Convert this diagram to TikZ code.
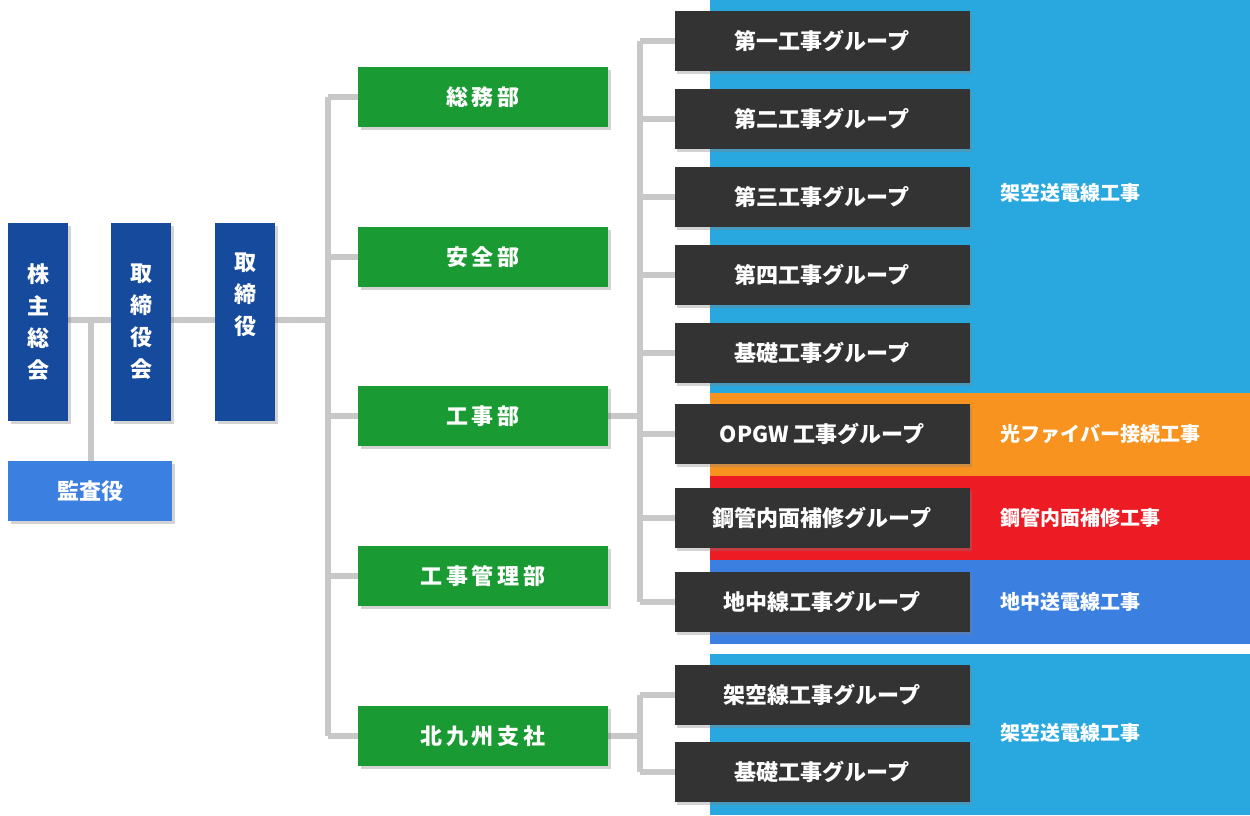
\documentclass[tikz,border=0pt]{standalone}
\usepackage{fontspec}
\setmainfont{Noto Sans CJK JP}
\usetikzlibrary{shadows}
\definecolor{sky}{HTML}{29A8E0}
\definecolor{org}{HTML}{F7931E}
\definecolor{rd}{HTML}{ED1C24}
\definecolor{mb}{HTML}{3B7FE0}
\definecolor{dk}{HTML}{333333}
\definecolor{gr}{HTML}{1A9A32}
\definecolor{nv}{HTML}{154A9C}
\definecolor{ln}{HTML}{C8C8C8}
\tikzset{
 x=0.75pt,y=-0.75pt,
 box/.style={minimum width=221.25pt,minimum height=45pt,inner sep=0pt,text=white,font=\bfseries\fontsize{16.5}{18}\selectfont,drop shadow={opacity=0.35,shadow xshift=2pt,shadow yshift=-2pt}},
 dkb/.style={box,fill=dk},
 grb/.style={box,fill=gr,minimum width=187.5pt},
 nvb/.style={box,fill=nv,minimum width=45pt,minimum height=148.5pt,align=center,font=\bfseries\fontsize{16.5}{24}\selectfont},
 lab/.style={anchor=west,text=white,font=\bfseries\fontsize{15}{18}\selectfont},
 conn/.style={draw=ln,line width=5pt},
}
\begin{document}
\begin{tikzpicture}
\useasboundingbox (0,0) rectangle (1250,815);
\fill[sky] (710,0) rectangle (1250,393);
\fill[org] (710,393) rectangle (1250,476);
\fill[rd] (710,476) rectangle (1250,560);
\fill[mb] (710,560) rectangle (1250,644);
\fill[sky] (710,654) rectangle (1250,815);
% connectors
\coordinate (j1) at (91,320);
\coordinate (j1b) at (91,461);
\coordinate (v1) at (328,97);
\coordinate (v2) at (328,736);
\coordinate (w1) at (640,41);
\coordinate (w2) at (640,602);
\coordinate (w3) at (640,695);
\coordinate (w4) at (640,772);
\draw[conn] (68,320) -- (111,320) (171,320) -- (215,320) (275,320) -- (328,320);
\draw[conn] (j1) -- (j1b);
\draw[conn] (v1) -- (v2);
\foreach \y in {97,257,416,576,736} \draw[conn] (328,\y) -- (358,\y);
\draw[conn] (608,416) -- (640,416) (w1) -- (w2);
\foreach \y in {41,119,197,275,353,434,518,602} \draw[conn] (640,\y) -- (675,\y);
\draw[conn] (608,736) -- (640,736) (w3) -- (w4);
\foreach \y in {695,772} \draw[conn] (640,\y) -- (675,\y);
% navy
\node[nvb] (a) at (38,322) {株\\主\\総\\会};
\node[nvb] (b) at (141,322) {取\\締\\役\\会};
\node[nvb,minimum height=148.5pt] (c) at (245,322) {取\\締\\役\\[18pt]};
\node[box,fill=mb,minimum width=123pt] (k) at (90,491) {監査役};
% green
\node[grb] (g1) at (483,97) {総\,務\,部};
\node[grb] (g2) at (483,257) {安\,全\,部};
\node[grb] (g3) at (483,416) {工\,事\,部};
\node[grb] (g4) at (483,576) {工\,事\,管\,理\,部};
\node[grb] (g5) at (483,736) {北\,九\,州\,支\,社};
% dark
\node[dkb] (d1) at (822,41) {第一工事グループ};
\node[dkb] (d2) at (822,119) {第二工事グループ};
\node[dkb] (d3) at (822,197) {第三工事グループ};
\node[dkb] (d4) at (822,275) {第四工事グループ};
\node[dkb] (d5) at (822,353) {基礎工事グループ};
\node[dkb] (d6) at (822,434) {OPGW 工事グループ};
\node[dkb] (d7) at (822,518) {鋼管内面補修グループ};
\node[dkb] (d8) at (822,602) {地中線工事グループ};
\node[dkb] (d9) at (822,695) {架空線工事グループ};
\node[dkb] (d10) at (822,772) {基礎工事グループ};
% labels
\node[lab] (l1) at (996,193) {架空送電線工事};
\node[lab] (l2) at (996,434) {光ファイバー接続工事};
\node[lab] (l3) at (996,518) {鋼管内面補修工事};
\node[lab] (l4) at (996,602) {地中送電線工事};
\node[lab] (l5) at (996,733) {架空送電線工事};
\end{tikzpicture}
\end{document}
